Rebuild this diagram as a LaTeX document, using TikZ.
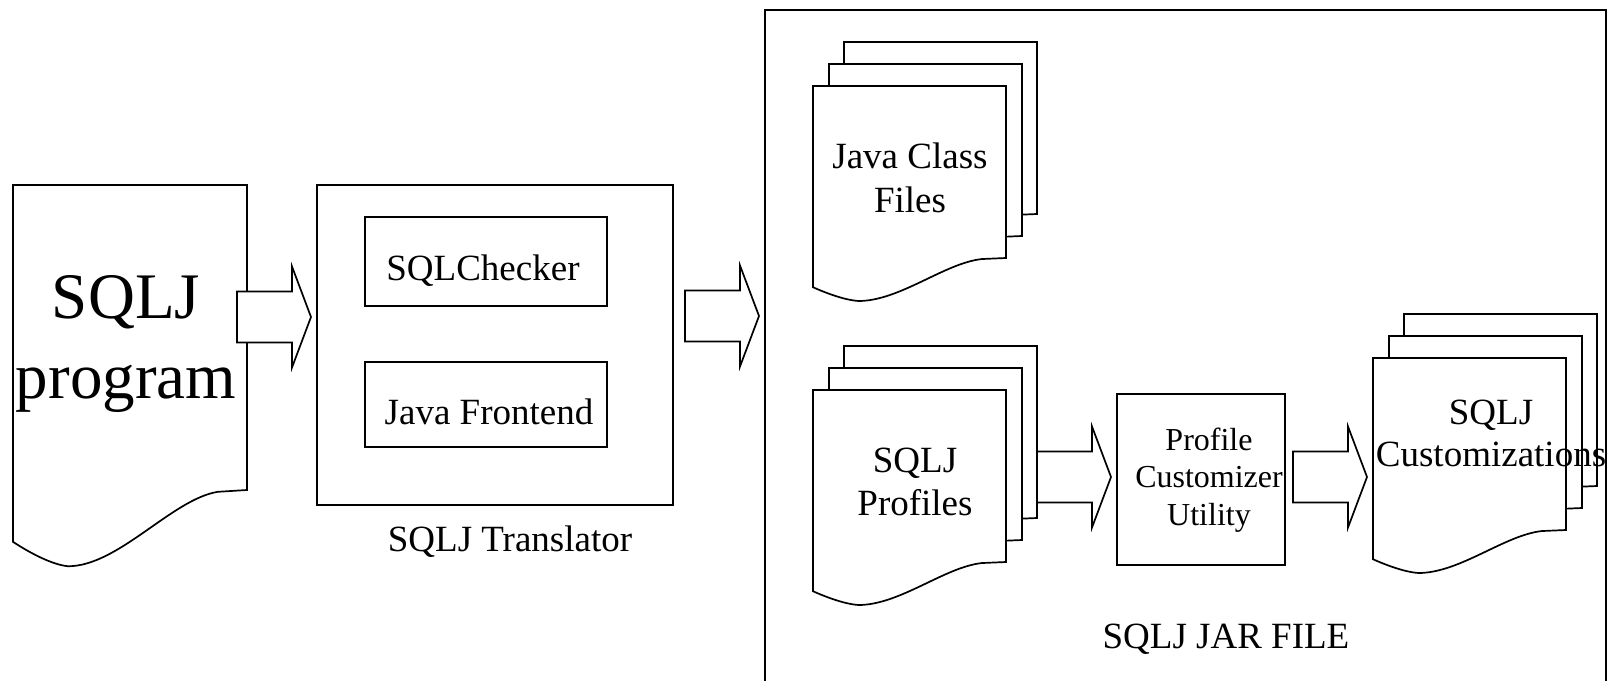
\documentclass[tikz,border=0pt]{standalone}
\usepackage{fontspec}
\setmainfont{Liberation Serif}
\usetikzlibrary{fit}
\tikzset{
  outline/.style={draw=black, line width=0.85pt, fill=white, line join=miter},
  frame/.style={draw=black, line width=1pt, inner sep=0pt},
  box/.style={outline, inner sep=0pt},
  % document sheet with a wavy lower edge, drawn in a unit square
  doc/.pic={\path[outline] (0,0) -- (1,0) -- (1,1) -- (0.875,1.006)
      .. controls (0.68,1.03) and (0.45,1.25) .. (0.235,1.25)
      .. controls (0.17,1.245) and (0.08,1.21) .. (0,1.17) -- cycle;},
  sheet/.style={xscale=193, yscale=172},
  % wide block arrow pointing right, anchored at the middle of its tail
  barrow/.pic={\path[outline] (0,-25.5) -- (55,-25.5) -- (55,-50.5) -- (74,0)
      -- (55,50.5) -- (55,25.5) -- (0,25.5) -- cycle;},
  txt/.style={inner sep=0pt, anchor=base, font=\fontsize{18.5}{22}\selectfont},
}
\newcommand\twolines[2]{\begin{tabular}[t]{@{}c@{}}#1\\#2\end{tabular}}
\begin{document}
\begin{tikzpicture}[x=0.5pt, y=-0.5pt]
\path[use as bounding box] (0,0) rectangle (1616,680);
\clip (0,0) rectangle (1616,680);

% jar file frame, open at the bottom
\node[frame, fit={(765,10) (1606,700)}] (jar) {};

% translator
\node[box, fit={(317,185) (673,505)}] (trans) {};
\node[box, fit={(365,217) (607,306)}] (checker) {};
\node[box, fit={(365,362) (607,447)}] (frontend) {};
\node[txt] (checkertext) at (483,280) {SQLChecker};
\node[txt] (frontendtext) at (489,424) {Java Frontend};
\node[txt] (translabel) at (510,551) {SQLJ Translator};

% source program
\pic[xscale=234, yscale=305] at (13,185) {doc};

% class files
\pic[sheet] at (844,42) {doc};
\pic[sheet] at (829,64) {doc};
\pic[sheet] at (813,86) {doc};

% profiles
\pic[sheet] at (844,346) {doc};
\pic[sheet] at (829,368) {doc};
\pic[sheet] at (813,390) {doc};

% customizer utility
\node[box, fit={(1117,394) (1285,565)}] (custom) {};

% customizations
\pic[sheet] at (1404,314) {doc};
\pic[sheet] at (1389,336) {doc};
\pic[sheet] at (1373,358) {doc};

% flow arrows
\pic at (237,317) {barrow};
\pic at (685,316) {barrow};
\pic at (1037,477) {barrow};
\pic at (1293,477) {barrow};

% labels
\node[txt, font=\fontsize{32.5}{40}\selectfont] (progtext) at (126,318) {\twolines{SQLJ}{program}};
\node[txt, font=\fontsize{18.5}{22}\selectfont] (classtext) at (910,168) {\twolines{Java Class}{Files}};
\node[txt, font=\fontsize{18.5}{21.5}\selectfont] (proftext) at (915,472) {\twolines{SQLJ}{Profiles}};
\node[txt, font=\fontsize{16}{18.75}\selectfont] (customtext) at (1209,450)
  {\begin{tabular}[t]{@{}c@{}}Profile\\Customizer\\Utility\end{tabular}};
\node[txt, font=\fontsize{18.5}{21}\selectfont] (custtext) at (1491,424) {\twolines{SQLJ}{Customizations}};
\node[txt] (jarlabel) at (1226,648) {SQLJ JAR FILE};
\end{tikzpicture}
\end{document}
